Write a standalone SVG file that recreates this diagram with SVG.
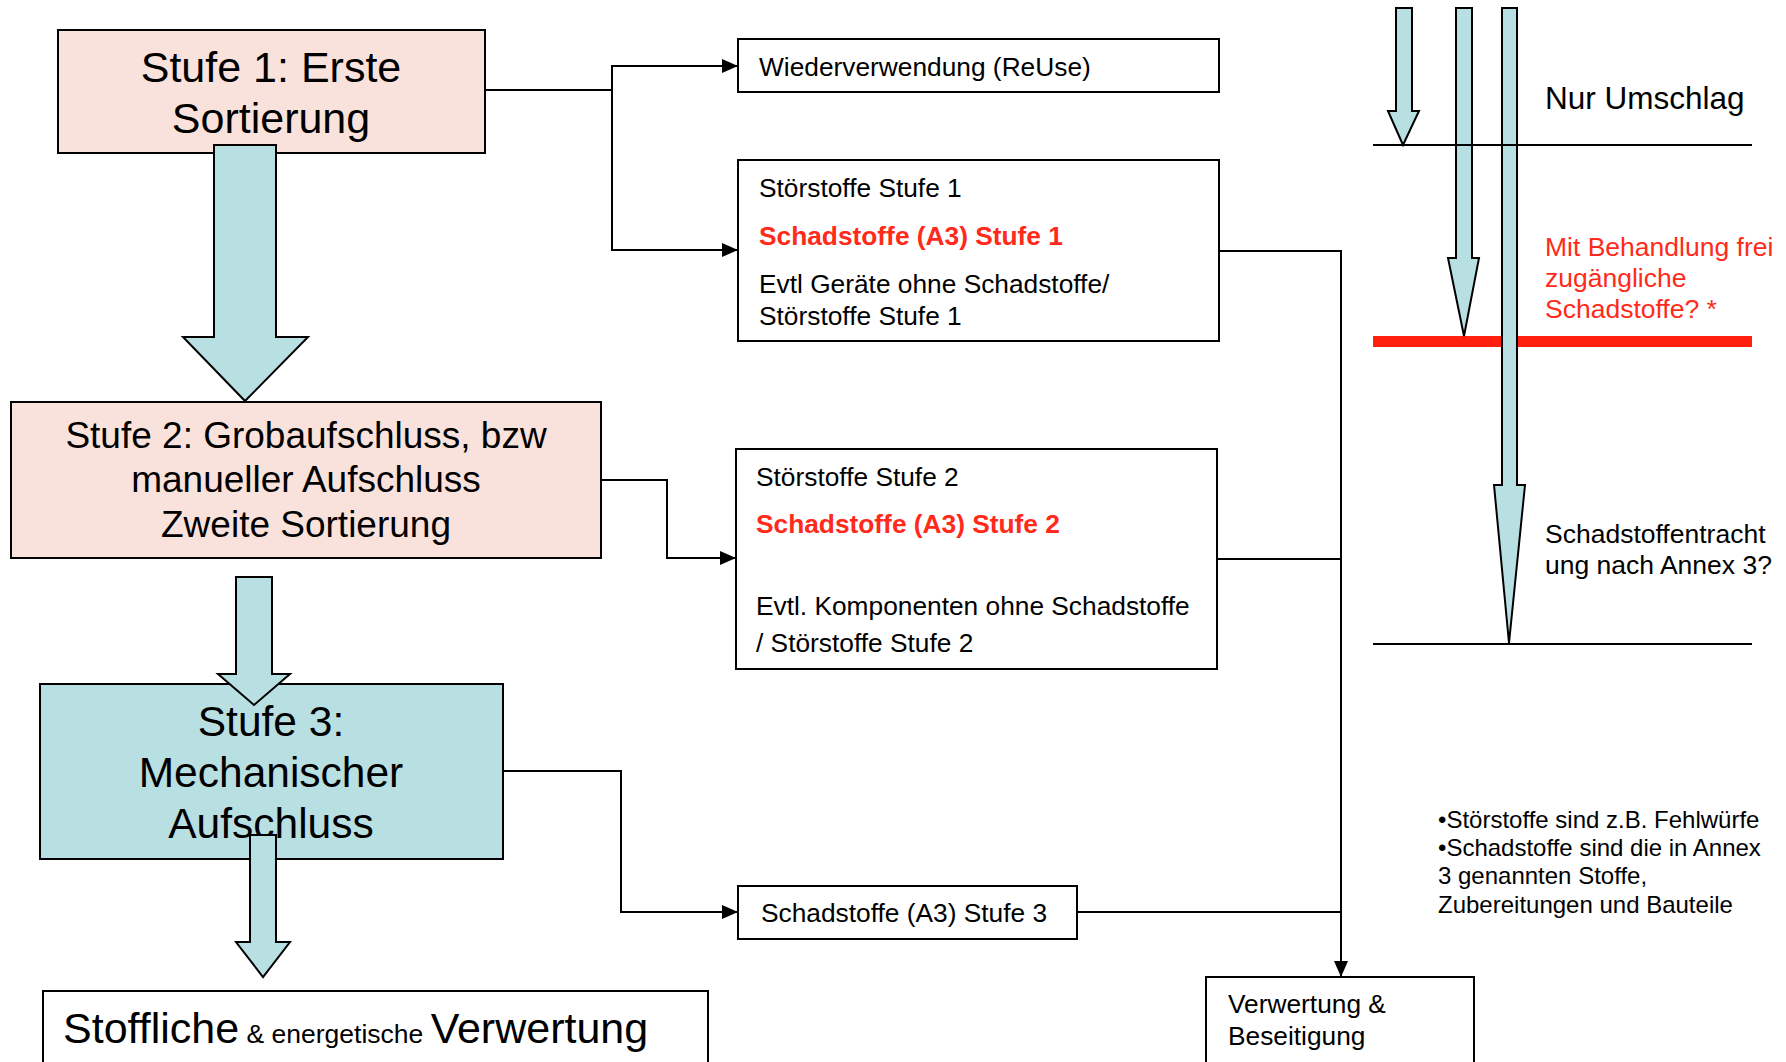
<svg xmlns="http://www.w3.org/2000/svg" width="1786" height="1062" viewBox="0 0 1786 1062">
<style>
text { font-family: "Liberation Sans", Arial, sans-serif; fill: #000; }
.pink { fill: #FAE2DC; stroke: #000; stroke-width: 2; }
.blue { fill: #B8DFE2; stroke: #000; stroke-width: 2; }
.box { fill: #fff; stroke: #000; stroke-width: 2; }
.flow { fill: #B8DFE2; stroke: #000; stroke-width: 2; stroke-linejoin: miter; }
.conn { fill: none; stroke: #000; stroke-width: 2; }
.t26 { font-size: 26.3px; }
.red { fill: #FF2A1A; }
.bold { font-weight: bold; }
.thin { stroke: #000; stroke-width: 2; }
</style>
<defs>
<marker id="arr" viewBox="0 0 16 14" refX="16" refY="7" markerWidth="16" markerHeight="14" markerUnits="userSpaceOnUse" orient="auto">
<path d="M0,0 L16,7 L0,14 Z" fill="#000"/>
</marker>
</defs>

<g id="stufe1">
<rect class="pink" x="58" y="30" width="427" height="123"/>
<text x="271" y="82" font-size="43" text-anchor="middle">Stufe 1: Erste</text>
<text x="271" y="133" font-size="43" text-anchor="middle">Sortierung</text>
</g>

<g id="stufe2">
<rect class="pink" x="11" y="402" width="590" height="156"/>
<text x="306" y="448" font-size="37" text-anchor="middle">Stufe 2: Grobaufschluss, bzw</text>
<text x="306" y="492" font-size="37" text-anchor="middle">manueller Aufschluss</text>
<text x="306" y="537" font-size="37" text-anchor="middle">Zweite Sortierung</text>
</g>

<g id="stufe3">
<rect class="blue" x="40" y="684" width="463" height="175"/>
<text x="271" y="736" font-size="42.5" text-anchor="middle">Stufe 3:</text>
<text x="271" y="787" font-size="42.5" text-anchor="middle">Mechanischer</text>
<text x="271" y="838" font-size="42.5" text-anchor="middle">Aufschluss</text>
</g>

<g id="verwertung-stofflich">
<rect class="box" x="43" y="991" width="665" height="90"/>
<text x="63" y="1043" font-size="43">Stoffliche<tspan font-size="26.5"> &amp; energetische </tspan>Verwertung</text>
</g>

<g id="wiederverwendung">
<rect class="box" x="738" y="39" width="481" height="53"/>
<text class="t26" x="759" y="76">Wiederverwendung (ReUse)</text>
</g>

<g id="stoerstoffe1">
<rect class="box" x="738" y="160" width="481" height="181"/>
<text class="t26" x="759" y="197">Störstoffe Stufe 1</text>
<text class="t26 red bold" x="759" y="245">Schadstoffe (A3) Stufe 1</text>
<text class="t26" x="759" y="293">Evtl Geräte ohne Schadstoffe/</text>
<text class="t26" x="759" y="325">Störstoffe Stufe 1</text>
</g>

<g id="stoerstoffe2">
<rect class="box" x="736" y="449" width="481" height="220"/>
<text class="t26" x="756" y="486">Störstoffe Stufe 2</text>
<text class="t26 red bold" x="756" y="533">Schadstoffe (A3) Stufe 2</text>
<text class="t26" x="756" y="615">Evtl. Komponenten ohne Schadstoffe</text>
<text class="t26" x="756" y="652">/ Störstoffe Stufe 2</text>
</g>

<g id="schadstoffe3">
<rect class="box" x="738" y="886" width="339" height="53"/>
<text class="t26" x="761" y="922">Schadstoffe (A3) Stufe 3</text>
</g>

<g id="verwertung-beseitigung">
<rect class="box" x="1206" y="977" width="268" height="100"/>
<text class="t26" x="1228" y="1013">Verwertung &amp;</text>
<text class="t26" x="1228" y="1045">Beseitigung</text>
</g>

<g id="connectors">
<polyline class="conn" points="485,90 612,90 612,66 738,66" marker-end="url(#arr)"/>
<polyline class="conn" points="612,90 612,250 738,250" marker-end="url(#arr)"/>
<polyline class="conn" points="601,480 667,480 667,558 736,558" marker-end="url(#arr)"/>
<polyline class="conn" points="503,771 621,771 621,912 738,912" marker-end="url(#arr)"/>
<polyline class="conn" points="1219,251 1341,251 1341,977" marker-end="url(#arr)"/>
<line class="conn" x1="1217" y1="559" x2="1341" y2="559"/>
<line class="conn" x1="1077" y1="912" x2="1341" y2="912"/>
</g>

<g id="flow-arrows">
<polygon class="flow" points="214,145 276,145 276,337 308,337 245,401 183,337 214,337"/>
<polygon class="flow" points="236,577 272,577 272,674 290,674 254,705 218,674 236,674"/>
<polygon class="flow" points="250,835 276,835 276,942 290,942 263,977 236,942 250,942"/>
</g>

<g id="legend-panel">
<rect x="1373" y="336" width="379" height="11" fill="#FF2010"/>
<polygon class="flow" points="1396,8 1412,8 1412,111 1419,111 1403,145 1388,111 1396,111"/>
<polygon class="flow" points="1456,8 1472,8 1472,258 1479,258 1464,336 1448,258 1456,258"/>
<polygon class="flow" points="1502,8 1517,8 1517,485 1525,485 1509,643 1494,485 1502,485"/>
<line class="thin" x1="1373" y1="145" x2="1752" y2="145"/>
<line class="thin" x1="1373" y1="644" x2="1752" y2="644"/>
<text x="1545" y="109" font-size="31.5">Nur Umschlag</text>
<text class="red" x="1545" y="256" font-size="26.5">Mit Behandlung frei</text>
<text class="red" x="1545" y="287" font-size="26.5">zugängliche</text>
<text class="red" x="1545" y="318" font-size="26.5">Schadstoffe? *</text>
<text x="1545" y="543" font-size="26.5">Schadstoffentracht</text>
<text x="1545" y="574" font-size="26.5">ung nach Annex 3?</text>
<text x="1438" y="828" font-size="24">•Störstoffe sind z.B. Fehlwürfe</text>
<text x="1438" y="856" font-size="24">•Schadstoffe sind die in Annex</text>
<text x="1438" y="884" font-size="24">3 genannten Stoffe,</text>
<text x="1438" y="913" font-size="24">Zubereitungen und Bauteile</text>
</g>
</svg>
